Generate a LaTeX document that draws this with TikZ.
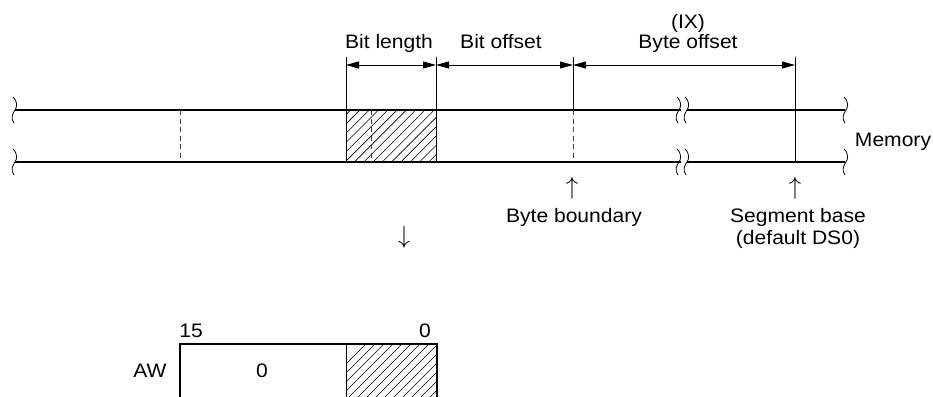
\documentclass[tikz,border=0pt]{standalone}
\usepackage{fontspec}
\setmainfont[FakeStretch=1.08]{Liberation Sans}
\usetikzlibrary{arrows.meta}
\begin{document}
\begin{tikzpicture}[x=1pt,y=-1pt,
  lbl/.style={inner sep=0pt,anchor=base,font=\fontsize{19.5}{20}\selectfont},
  sym/.style={inner sep=0pt,anchor=center,font=\fontsize{24}{24}\selectfont},
  mem/.style={line width=2.2pt},
  thin/.style={line width=0.9pt},
  dsh/.style={line width=0.9pt,dash pattern=on 5pt off 3.5pt,black!75},
  dim/.style={line width=0.9pt,{Triangle[length=13pt,width=7pt]}-{Triangle[length=13pt,width=7pt]}},
  hatch/.style={line width=0.6pt},
  brk/.style={line width=0.8pt}]
\clip (0,0) rectangle (933,396);
% key coordinates
\coordinate (L1) at (15,110);   \coordinate (L2) at (15,162);
\coordinate (B1a) at (681,110); \coordinate (B1b) at (687,110);
\coordinate (B2a) at (681,162); \coordinate (B2b) at (687,162);
\coordinate (R1) at (845,110);  \coordinate (R2) at (845,162);
\coordinate (A) at (346,57);  \coordinate (Ab) at (346,162);
\coordinate (Bv) at (436,57); \coordinate (Bb) at (436,162);
\coordinate (C) at (573,57);  \coordinate (Cm) at (573,110); \coordinate (Cb) at (573,162);
\coordinate (D) at (795,57);  \coordinate (Db) at (795,162);
\coordinate (E1) at (180,110); \coordinate (E2) at (180,162);
\coordinate (F1) at (371,110); \coordinate (F2) at (371,162);
\coordinate (Aa) at (346,65); \coordinate (Ba) at (436,65);
\coordinate (Ca) at (573,65); \coordinate (Da) at (795,65);
% hatching memory
\begin{scope}
  \clip (346,110) rectangle (436,162);
  \foreach \k in {280,289.3,...,450} \draw[hatch] (\k,162) -- (\k+52,110);
\end{scope}
% memory lines
\draw[mem] (L1) -- (B1a); \draw[mem] (B1b) -- (R1);
\draw[mem] (L2) -- (B2a); \draw[mem] (B2b) -- (R2);
% wavy ends
\foreach \x/\y in {14/110,14/162,678/110,686/162,686/110,678/162,845/110,845/162}{
  \draw[brk] (\x-1,\y-13) .. controls (\x+4,\y-8) and (\x+3,\y-3) .. (\x+1,\y)
             .. controls (\x-1,\y+3) and (\x-4,\y+8) .. (\x,\y+13);
}
% verticals
\draw[thin] (A) -- (Ab);
\draw[thin] (Bv) -- (Bb);
\draw[thin] (C) -- (Cm);
\draw[dsh] (Cm) -- (Cb);
\draw[thin] (D) -- (Db);
\draw[dsh] (E1) -- (E2);
\draw[dsh] (F1) -- (F2);
% dimension arrows
\draw[dim] (Aa) -- (Ba);
\draw[dim] (Ba) -- (Ca);
\draw[dim] (Ca) -- (Da);
% labels
\node[lbl] (bl) at (389,48.3) {Bit length};
\node[lbl] (bo) at (501,48.3) {Bit offset};
\node[lbl] (ix) at (688,28.3) {(IX)};
\node[lbl] (byo) at (688,48.3) {Byte offset};
\node[lbl] (memo) at (893,146) {Memory};
\node[sym] (up1) at (572,188) {$\uparrow$};
\node[lbl] (bb) at (574,222) {Byte boundary};
\node[sym] (up2) at (795,188) {$\uparrow$};
\node[lbl] (sb) at (798,222) {Segment base};
\node[lbl] (ds) at (798,244) {(default DS0)};
\node[sym] (dn) at (404,237) {$\downarrow$};
% register
\begin{scope}
  \clip (346,344) rectangle (437,420);
  \foreach \k in {280,289,...,460} \draw[hatch] (\k,430) -- (\k+86,344);
\end{scope}
\draw[line width=2pt] (180,420) -- (180,344) -- (437,344) -- (437,420);
\draw[thin] (346,344) -- (346,420);
\node[lbl] (n15) at (191,337) {15};
\node[lbl] (n0) at (425,337) {0};
\node[lbl] (aw) at (150,377) {AW};
\node[lbl] (z) at (262,377) {0};
\end{tikzpicture}
\end{document}
